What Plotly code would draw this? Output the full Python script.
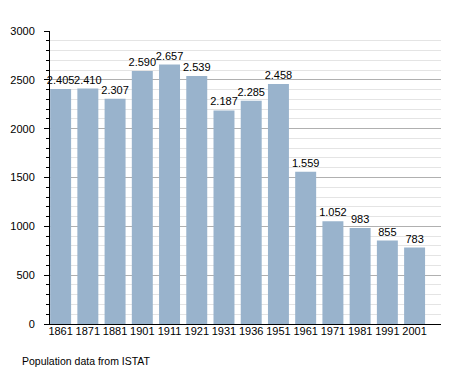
import plotly.graph_objects as go

years = ["1861", "1871", "1881", "1901", "1911", "1921", "1931", "1936", "1951", "1961", "1971", "1981", "1991", "2001"]
population = [2405, 2410, 2307, 2590, 2657, 2539, 2187, 2285, 2458, 1559, 1052, 983, 855, 783]
labels = ["2.405", "2.410", "2.307", "2.590", "2.657", "2.539", "2.187", "2.285", "2.458", "1.559", "1.052", "983", "855", "783"]
y_ticks = [0, 500, 1000, 1500, 2000, 2500, 3000]

font = "Liberation Sans, Arial, sans-serif"

fig = go.Figure(go.Bar(
    x=list(range(len(years))), y=population, text=labels,
    textposition="outside", textfont=dict(size=11, color="#000", family=font),
    marker=dict(color="#99b3cc", line=dict(width=0)),
    width=0.77, cliponaxis=False,
))

# page body has an 8px margin, so the figure is drawn 8px smaller
fig.update_layout(
    width=447, height=365,
    margin=dict(l=42, r=14, t=23, b=49, autoexpand=False),
    plot_bgcolor="white", paper_bgcolor="white",
    showlegend=False,
    font=dict(family=font, size=11, color="#000"),
    xaxis=dict(
        tickmode="array", tickvals=list(range(len(years))), ticktext=years,
        range=[-0.39, 13.97], showgrid=False, showline=True, linecolor="#000",
        linewidth=1, ticks="", zeroline=False, tickfont=dict(size=11),
        ticklabelstandoff=-3, automargin=False,
    ),
    yaxis=dict(
        range=[0, 3000], tickvals=y_ticks, showline=True, linecolor="#000",
        linewidth=1, ticks="outside", ticklen=5, tickcolor="#000",
        gridcolor="#b0b0b0", gridwidth=1, zeroline=False,
        tickfont=dict(size=11), ticklabelstandoff=7, automargin=False,
        minor=dict(dtick=100, ticks="outside", ticklen=3, tickcolor="#000",
                   showgrid=True, gridcolor="#e4e4e4", gridwidth=1),
    ),
    uniformtext=dict(minsize=11, mode="show"),
    annotations=[dict(
        text="Population data from ISTAT", xref="paper", yref="paper",
        x=-30 / 391, y=-37 / 293, xanchor="left", yanchor="middle",
        showarrow=False, font=dict(size=10.5, color="#000", family=font),
    )],
)

fig.write_html("out.html")
